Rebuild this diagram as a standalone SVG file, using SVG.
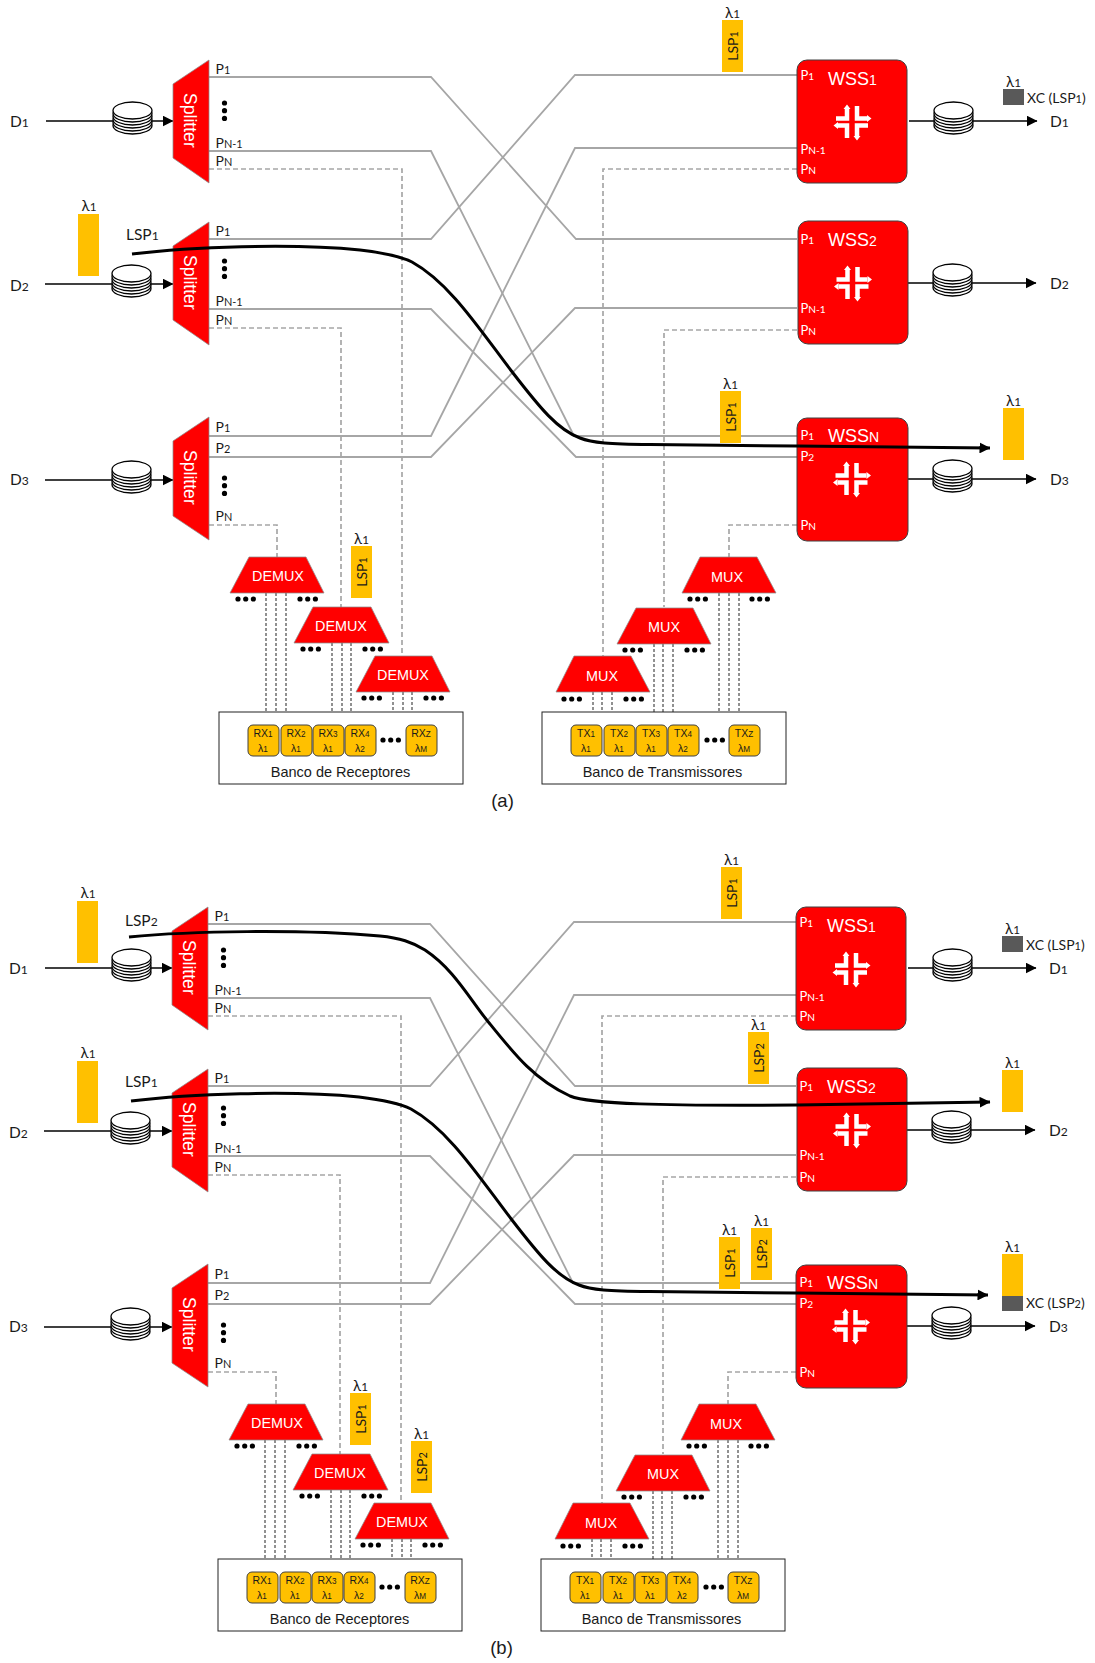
<svg xmlns="http://www.w3.org/2000/svg" xmlns:xlink="http://www.w3.org/1999/xlink" width="1095" height="1663" viewBox="0 0 1095 1663">
<style>
text{font-family:"Lato","Noto Sans",sans-serif;fill:#1a1a1a}
.a{font-family:"Liberation Sans",Arial,sans-serif}
.s{font-size:.78em}
.ln{fill:none;stroke:#a6a6a6;stroke-width:1.8}
.ds{fill:none;stroke:#a6a6a6;stroke-width:1.7;stroke-dasharray:5 3}
.tn{fill:none;stroke:#222;stroke-width:1;stroke-dasharray:3 2}
.bk{fill:none;stroke:#000;stroke-width:1.6;marker-end:url(#arr)}
.lsp{fill:none;stroke:#000;stroke-width:3;marker-end:url(#arr)}
.red{fill:#f00;stroke:#8c8c8c;stroke-width:.75}
.wss{fill:#f00;stroke:#404040;stroke-width:1}
.y{fill:#ffc000}
.g{fill:#595959}
.box{fill:#fff;stroke:#222;stroke-width:1}
.cell{fill:#ffc000;stroke:#404040;stroke-width:1}
.k{font-size:14px}
.d{font-size:15.5px}
.w{fill:#fff;font-size:13px}
.wl{fill:#fff;font-size:18px}
.sp{fill:#fff;font-size:17.6px}
.mx{fill:#fff;font-size:14.4px;text-anchor:middle}
.ce{font-size:10.5px;text-anchor:middle}
.bn{font-size:14.5px;text-anchor:middle}
.la{font-size:15px;text-anchor:middle}
.cap{font-size:18.5px;text-anchor:middle}
</style>
<defs>
<marker id="arr" markerUnits="userSpaceOnUse" markerWidth="11" markerHeight="11" refX="10.5" refY="5.5" orient="auto" viewBox="0 0 11 11"><path d="M0 0L11 5.5L0 11Z" fill="#000"/></marker>
<g id="cyl" fill="#fff" stroke="#000" stroke-width="1.3"><ellipse cx="19.5" cy="4.5" rx="19.5" ry="8.5"/><ellipse cx="19.5" cy="1.5" rx="19.5" ry="8.5"/><ellipse cx="19.5" cy="-1.5" rx="19.5" ry="8.5"/><ellipse cx="19.5" cy="-4.5" rx="19.5" ry="8.5"/><ellipse cx="19.5" cy="-7.5" rx="19.5" ry="8.5"/><ellipse cx="19.5" cy="-10.5" rx="19.5" ry="8.5"/></g>
<g id="ico"><path d="M-16-3.5H-5V-13M5-16V-3.5H15M-14 3.5H-5V16M16 3.5H5V14" fill="none" stroke="#fff" stroke-width="4.5"/><path d="M-8.5-13L-5-17.5L-1.5-13ZM15-7L19.5-3.5L15 0ZM-14 0L-18.5 3.5L-14 7ZM1.5 14L5 18.5L8.5 14Z" fill="#fff"/></g>
<g id="dh" fill="#000"><circle cx="0" cy="0" r="2.6"/><circle cx="7.7" cy="0" r="2.6"/><circle cx="15.4" cy="0" r="2.6"/></g>
<g id="dv" fill="#000"><circle cx="0" cy="0" r="2.6"/><circle cx="0" cy="7.7" r="2.6"/><circle cx="0" cy="15.4" r="2.6"/></g>
</defs>
<rect width="1095" height="1663" fill="#fff"/>

<g id="panel-a">
<g id="connectors-a">
<path class="ln" d="M209 77H431L576 239H797"/>
<path class="ln" d="M209 151H431L574 436H797"/>
<path class="ln" d="M209 239H431L575 75H797"/>
<path class="ln" d="M209 309H431L576 457H797"/>
<path class="ln" d="M209 436H431L575 148H797"/>
<path class="ln" d="M209 457H431L575 308H797"/>
<path class="ds" d="M209 169H402V656"/>
<path class="ds" d="M209 328H341V607"/>
<path class="ds" d="M209 525H277V557"/>
<path class="ds" d="M797 169H603V656"/>
<path class="ds" d="M797 330H664V607"/>
<path class="ds" d="M797 525H729V557"/>
<path class="tn" d="M266 593V712M276 593V712M286 593V712M332 643V712M342 643V712M351 643V712M393 692V712M403 692V712M412 692V712"/>
<path class="tn" d="M719 593V712M729 593V712M739 593V712M654 644V712M663 644V712M673 644V712M593 692V712M602 692V712M612 692V712"/>
<path class="bk" d="M46 121H173"/>
<path class="bk" d="M45 284H173"/>
<path class="bk" d="M45 480H173"/>
<path class="bk" d="M909 121H1037"/>
<path class="bk" d="M908 283H1036"/>
<path class="bk" d="M908 479H1036"/>
</g>
<g id="src-a">
<text class="d" x="10" y="127">D<tspan class="s">1</tspan></text><use href="#cyl" x="113" y="121"/>
<text class="d" x="10" y="291">D<tspan class="s">2</tspan></text><use href="#cyl" x="112" y="284"/>
<text class="d" x="10" y="485">D<tspan class="s">3</tspan></text><use href="#cyl" x="112" y="480"/>
</g>
<g id="splitter1-a"><path class="red" d="M173 84L209 60V183L173 158Z"/><text class="sp a" transform="translate(184 93) rotate(90)">Splitter</text>
<text class="k" x="215.5" y="73.5">P<tspan class="s">1</tspan></text><text class="k" x="215.5" y="148">P<tspan class="s">N-1</tspan></text><text class="k" x="215.5" y="166">P<tspan class="s">N</tspan></text><use href="#dv" x="224.5" y="103"/></g>
<g id="splitter2-a"><path class="red" d="M173 246L209 222V345L173 320Z"/><text class="sp a" transform="translate(184 255) rotate(90)">Splitter</text>
<text class="k" x="215.5" y="236">P<tspan class="s">1</tspan></text><text class="k" x="215.5" y="306">P<tspan class="s">N-1</tspan></text><text class="k" x="215.5" y="325">P<tspan class="s">N</tspan></text><use href="#dv" x="224.5" y="261"/></g>
<g id="splitter3-a"><path class="red" d="M173 441L209 417V540L173 516Z"/><text class="sp a" transform="translate(184 450) rotate(90)">Splitter</text>
<text class="k" x="215.5" y="432">P<tspan class="s">1</tspan></text><text class="k" x="215.5" y="453">P<tspan class="s">2</tspan></text><text class="k" x="215.5" y="521">P<tspan class="s">N</tspan></text><use href="#dv" x="224.5" y="478"/></g>
<g id="wss1-a"><rect class="wss" x="797" y="60" width="110" height="123" rx="10"/><text class="wl a" x="828" y="85">WSS<tspan class="s">1</tspan></text><use href="#ico" x="852" y="122"/>
<text class="w" x="800.5" y="80">P<tspan class="s">1</tspan></text><text class="w" x="800.5" y="154">P<tspan class="s">N-1</tspan></text><text class="w" x="800.5" y="174">P<tspan class="s">N</tspan></text></g>
<g id="wss2-a"><rect class="wss" x="798" y="221" width="110" height="123" rx="10"/><text class="wl a" x="828" y="246">WSS<tspan class="s">2</tspan></text><use href="#ico" x="852.5" y="283"/>
<text class="w" x="800.5" y="244">P<tspan class="s">1</tspan></text><text class="w" x="800.5" y="313">P<tspan class="s">N-1</tspan></text><text class="w" x="800.5" y="334.5">P<tspan class="s">N</tspan></text></g>
<g id="wssn-a"><rect class="wss" x="797" y="418" width="111" height="123" rx="10"/><text class="wl a" x="828" y="442">WSS<tspan class="s">N</tspan></text><use href="#ico" x="851.5" y="479"/>
<text class="w" x="800.5" y="440">P<tspan class="s">1</tspan></text><text class="w" x="800.5" y="461">P<tspan class="s">2</tspan></text><text class="w" x="800.5" y="529.5">P<tspan class="s">N</tspan></text></g>
<g id="dst-a">
<use href="#cyl" x="934" y="121"/><text class="d" x="1050" y="127">D<tspan class="s">1</tspan></text>
<use href="#cyl" x="933" y="283"/><text class="d" x="1050" y="289">D<tspan class="s">2</tspan></text>
<use href="#cyl" x="933" y="479"/><text class="d" x="1050" y="485">D<tspan class="s">3</tspan></text>
</g>
<g id="demux1-a"><path class="red" d="M249 557H306L324 593H230Z"/><text class="mx a" x="278" y="581">DEMUX</text><use href="#dh" x="238" y="599"/><use href="#dh" x="300" y="599"/></g>
<g id="demux2-a"><path class="red" d="M313 607H371L389 643H294Z"/><text class="mx a" x="341" y="631">DEMUX</text><use href="#dh" x="303" y="649"/><use href="#dh" x="365" y="649"/></g>
<g id="demux3-a"><path class="red" d="M375 656H432L450 692H356Z"/><text class="mx a" x="403" y="680">DEMUX</text><use href="#dh" x="364" y="698"/><use href="#dh" x="426" y="698"/></g>
<g id="mux3-a"><path class="red" d="M700 557H757L776 593H682Z"/><text class="mx a" x="727" y="582">MUX</text><use href="#dh" x="690" y="599"/><use href="#dh" x="752" y="599"/></g>
<g id="mux2-a"><path class="red" d="M636 608H693L711 644H617Z"/><text class="mx a" x="664" y="632">MUX</text><use href="#dh" x="625" y="650"/><use href="#dh" x="687" y="650"/></g>
<g id="mux1-a"><path class="red" d="M574 656H631L650 692H556Z"/><text class="mx a" x="602" y="681">MUX</text><use href="#dh" x="564" y="699"/><use href="#dh" x="626" y="699"/></g>
<g id="rxbank-a"><rect class="box" x="219" y="712" width="244" height="72"/>
<rect class="cell" x="248" y="725" width="31" height="31" rx="5"/><text class="ce a" x="263" y="737">RX<tspan class="s">1</tspan></text><text class="ce a" x="263" y="752">λ<tspan class="s">1</tspan></text>
<rect class="cell" x="281" y="725" width="31" height="31" rx="5"/><text class="ce a" x="296" y="737">RX<tspan class="s">2</tspan></text><text class="ce a" x="296" y="752">λ<tspan class="s">1</tspan></text>
<rect class="cell" x="313" y="725" width="31" height="31" rx="5"/><text class="ce a" x="328" y="737">RX<tspan class="s">3</tspan></text><text class="ce a" x="328" y="752">λ<tspan class="s">1</tspan></text>
<rect class="cell" x="345" y="725" width="31" height="31" rx="5"/><text class="ce a" x="360" y="737">RX<tspan class="s">4</tspan></text><text class="ce a" x="360" y="752">λ<tspan class="s">2</tspan></text>
<use href="#dh" x="383" y="740"/>
<rect class="cell" x="406" y="725" width="31" height="31" rx="5"/><text class="ce a" x="421" y="737">RX<tspan class="s">Z</tspan></text><text class="ce a" x="421" y="752">λ<tspan class="s">M</tspan></text>
<text class="bn a" x="340.5" y="777">Banco de Receptores</text></g>
<g id="txbank-a"><rect class="box" x="542" y="712" width="244" height="72"/>
<rect class="cell" x="571" y="725" width="31" height="31" rx="5"/><text class="ce a" x="586" y="737">TX<tspan class="s">1</tspan></text><text class="ce a" x="586" y="752">λ<tspan class="s">1</tspan></text>
<rect class="cell" x="604" y="725" width="31" height="31" rx="5"/><text class="ce a" x="619" y="737">TX<tspan class="s">2</tspan></text><text class="ce a" x="619" y="752">λ<tspan class="s">1</tspan></text>
<rect class="cell" x="636" y="725" width="31" height="31" rx="5"/><text class="ce a" x="651" y="737">TX<tspan class="s">3</tspan></text><text class="ce a" x="651" y="752">λ<tspan class="s">1</tspan></text>
<rect class="cell" x="668" y="725" width="31" height="31" rx="5"/><text class="ce a" x="683" y="737">TX<tspan class="s">4</tspan></text><text class="ce a" x="683" y="752">λ<tspan class="s">2</tspan></text>
<use href="#dh" x="707" y="740"/>
<rect class="cell" x="729" y="725" width="31" height="31" rx="5"/><text class="ce a" x="744" y="737">TX<tspan class="s">Z</tspan></text><text class="ce a" x="744" y="752">λ<tspan class="s">M</tspan></text>
<text class="bn a" x="662.5" y="777">Banco de Transmissores</text></g>
<text class="cap a" x="502.5" y="807">(a)</text>
</g>

<g id="labels-a">
<rect class="y" x="78" y="214" width="21" height="62"/><text class="la" x="89" y="211">λ<tspan class="s">1</tspan></text>
<text class="d" x="126" y="240">LSP<tspan class="s">1</tspan></text>
<rect class="y" x="722" y="20" width="21" height="52"/><text class="la" x="732.5" y="18">λ<tspan class="s">1</tspan></text><text class="k" text-anchor="middle" transform="translate(738 46) rotate(-90)">LSP<tspan class="s">1</tspan></text>
<rect class="y" x="720" y="391" width="21" height="52"/><text class="la" x="730.5" y="389">λ<tspan class="s">1</tspan></text><text class="k" text-anchor="middle" transform="translate(736 417) rotate(-90)">LSP<tspan class="s">1</tspan></text>
<rect class="y" x="351" y="546" width="21" height="52"/><text class="la" x="361.5" y="544">λ<tspan class="s">1</tspan></text><text class="k" text-anchor="middle" transform="translate(367 572) rotate(-90)">LSP<tspan class="s">1</tspan></text>
<rect class="g" x="1003" y="89" width="21" height="16"/><text class="la" x="1013.5" y="87">λ<tspan class="s">1</tspan></text><text class="k" x="1027" y="103">XC (LSP<tspan class="s">1</tspan>)</text>
<rect class="y" x="1003" y="408" width="21" height="52"/><text class="la" x="1013.5" y="406">λ<tspan class="s">1</tspan></text>
<path id="lsp1-a" class="lsp" d="M132 254C190 247 290 243 360 250C385 253 400 256 412 262C450 283 480 330 513 373C540 408 558 430 580 438C592 443 610 444 650 444.5L797 446L990 448"/>
</g>

<g id="panel-b" transform="translate(-1 847)">
<g id="connectors-b">
<path class="ln" d="M209 77H431L576 239H797"/>
<path class="ln" d="M209 151H431L574 436H797"/>
<path class="ln" d="M209 239H431L575 75H797"/>
<path class="ln" d="M209 309H431L576 457H797"/>
<path class="ln" d="M209 436H431L575 148H797"/>
<path class="ln" d="M209 457H431L575 308H797"/>
<path class="ds" d="M209 169H402V656"/>
<path class="ds" d="M209 328H341V607"/>
<path class="ds" d="M209 525H277V557"/>
<path class="ds" d="M797 169H603V656"/>
<path class="ds" d="M797 330H664V607"/>
<path class="ds" d="M797 525H729V557"/>
<path class="tn" d="M266 593V712M276 593V712M286 593V712M332 643V712M342 643V712M351 643V712M393 692V712M403 692V712M412 692V712"/>
<path class="tn" d="M719 593V712M729 593V712M739 593V712M654 644V712M663 644V712M673 644V712M593 692V712M602 692V712M612 692V712"/>
<path class="bk" d="M46 121H173"/>
<path class="bk" d="M45 284H173"/>
<path class="bk" d="M45 480H173"/>
<path class="bk" d="M909 121H1037"/>
<path class="bk" d="M908 283H1036"/>
<path class="bk" d="M908 479H1036"/>
</g>
<g id="src-b">
<text class="d" x="10" y="127">D<tspan class="s">1</tspan></text><use href="#cyl" x="113" y="121"/>
<text class="d" x="10" y="291">D<tspan class="s">2</tspan></text><use href="#cyl" x="112" y="284"/>
<text class="d" x="10" y="485">D<tspan class="s">3</tspan></text><use href="#cyl" x="112" y="480"/>
</g>
<g id="splitter1-b"><path class="red" d="M173 84L209 60V183L173 158Z"/><text class="sp a" transform="translate(184 93) rotate(90)">Splitter</text>
<text class="k" x="215.5" y="73.5">P<tspan class="s">1</tspan></text><text class="k" x="215.5" y="148">P<tspan class="s">N-1</tspan></text><text class="k" x="215.5" y="166">P<tspan class="s">N</tspan></text><use href="#dv" x="224.5" y="103"/></g>
<g id="splitter2-b"><path class="red" d="M173 246L209 222V345L173 320Z"/><text class="sp a" transform="translate(184 255) rotate(90)">Splitter</text>
<text class="k" x="215.5" y="236">P<tspan class="s">1</tspan></text><text class="k" x="215.5" y="306">P<tspan class="s">N-1</tspan></text><text class="k" x="215.5" y="325">P<tspan class="s">N</tspan></text><use href="#dv" x="224.5" y="261"/></g>
<g id="splitter3-b"><path class="red" d="M173 441L209 417V540L173 516Z"/><text class="sp a" transform="translate(184 450) rotate(90)">Splitter</text>
<text class="k" x="215.5" y="432">P<tspan class="s">1</tspan></text><text class="k" x="215.5" y="453">P<tspan class="s">2</tspan></text><text class="k" x="215.5" y="521">P<tspan class="s">N</tspan></text><use href="#dv" x="224.5" y="478"/></g>
<g id="wss1-b"><rect class="wss" x="797" y="60" width="110" height="123" rx="10"/><text class="wl a" x="828" y="85">WSS<tspan class="s">1</tspan></text><use href="#ico" x="852" y="122"/>
<text class="w" x="800.5" y="80">P<tspan class="s">1</tspan></text><text class="w" x="800.5" y="154">P<tspan class="s">N-1</tspan></text><text class="w" x="800.5" y="174">P<tspan class="s">N</tspan></text></g>
<g id="wss2-b"><rect class="wss" x="798" y="221" width="110" height="123" rx="10"/><text class="wl a" x="828" y="246">WSS<tspan class="s">2</tspan></text><use href="#ico" x="852.5" y="283"/>
<text class="w" x="800.5" y="244">P<tspan class="s">1</tspan></text><text class="w" x="800.5" y="313">P<tspan class="s">N-1</tspan></text><text class="w" x="800.5" y="334.5">P<tspan class="s">N</tspan></text></g>
<g id="wssn-b"><rect class="wss" x="797" y="418" width="111" height="123" rx="10"/><text class="wl a" x="828" y="442">WSS<tspan class="s">N</tspan></text><use href="#ico" x="851.5" y="479"/>
<text class="w" x="800.5" y="440">P<tspan class="s">1</tspan></text><text class="w" x="800.5" y="461">P<tspan class="s">2</tspan></text><text class="w" x="800.5" y="529.5">P<tspan class="s">N</tspan></text></g>
<g id="dst-b">
<use href="#cyl" x="934" y="121"/><text class="d" x="1050" y="127">D<tspan class="s">1</tspan></text>
<use href="#cyl" x="933" y="283"/><text class="d" x="1050" y="289">D<tspan class="s">2</tspan></text>
<use href="#cyl" x="933" y="479"/><text class="d" x="1050" y="485">D<tspan class="s">3</tspan></text>
</g>
<g id="demux1-b"><path class="red" d="M249 557H306L324 593H230Z"/><text class="mx a" x="278" y="581">DEMUX</text><use href="#dh" x="238" y="599"/><use href="#dh" x="300" y="599"/></g>
<g id="demux2-b"><path class="red" d="M313 607H371L389 643H294Z"/><text class="mx a" x="341" y="631">DEMUX</text><use href="#dh" x="303" y="649"/><use href="#dh" x="365" y="649"/></g>
<g id="demux3-b"><path class="red" d="M375 656H432L450 692H356Z"/><text class="mx a" x="403" y="680">DEMUX</text><use href="#dh" x="364" y="698"/><use href="#dh" x="426" y="698"/></g>
<g id="mux3-b"><path class="red" d="M700 557H757L776 593H682Z"/><text class="mx a" x="727" y="582">MUX</text><use href="#dh" x="690" y="599"/><use href="#dh" x="752" y="599"/></g>
<g id="mux2-b"><path class="red" d="M636 608H693L711 644H617Z"/><text class="mx a" x="664" y="632">MUX</text><use href="#dh" x="625" y="650"/><use href="#dh" x="687" y="650"/></g>
<g id="mux1-b"><path class="red" d="M574 656H631L650 692H556Z"/><text class="mx a" x="602" y="681">MUX</text><use href="#dh" x="564" y="699"/><use href="#dh" x="626" y="699"/></g>
<g id="rxbank-b"><rect class="box" x="219" y="712" width="244" height="72"/>
<rect class="cell" x="248" y="725" width="31" height="31" rx="5"/><text class="ce a" x="263" y="737">RX<tspan class="s">1</tspan></text><text class="ce a" x="263" y="752">λ<tspan class="s">1</tspan></text>
<rect class="cell" x="281" y="725" width="31" height="31" rx="5"/><text class="ce a" x="296" y="737">RX<tspan class="s">2</tspan></text><text class="ce a" x="296" y="752">λ<tspan class="s">1</tspan></text>
<rect class="cell" x="313" y="725" width="31" height="31" rx="5"/><text class="ce a" x="328" y="737">RX<tspan class="s">3</tspan></text><text class="ce a" x="328" y="752">λ<tspan class="s">1</tspan></text>
<rect class="cell" x="345" y="725" width="31" height="31" rx="5"/><text class="ce a" x="360" y="737">RX<tspan class="s">4</tspan></text><text class="ce a" x="360" y="752">λ<tspan class="s">2</tspan></text>
<use href="#dh" x="383" y="740"/>
<rect class="cell" x="406" y="725" width="31" height="31" rx="5"/><text class="ce a" x="421" y="737">RX<tspan class="s">Z</tspan></text><text class="ce a" x="421" y="752">λ<tspan class="s">M</tspan></text>
<text class="bn a" x="340.5" y="777">Banco de Receptores</text></g>
<g id="txbank-b"><rect class="box" x="542" y="712" width="244" height="72"/>
<rect class="cell" x="571" y="725" width="31" height="31" rx="5"/><text class="ce a" x="586" y="737">TX<tspan class="s">1</tspan></text><text class="ce a" x="586" y="752">λ<tspan class="s">1</tspan></text>
<rect class="cell" x="604" y="725" width="31" height="31" rx="5"/><text class="ce a" x="619" y="737">TX<tspan class="s">2</tspan></text><text class="ce a" x="619" y="752">λ<tspan class="s">1</tspan></text>
<rect class="cell" x="636" y="725" width="31" height="31" rx="5"/><text class="ce a" x="651" y="737">TX<tspan class="s">3</tspan></text><text class="ce a" x="651" y="752">λ<tspan class="s">1</tspan></text>
<rect class="cell" x="668" y="725" width="31" height="31" rx="5"/><text class="ce a" x="683" y="737">TX<tspan class="s">4</tspan></text><text class="ce a" x="683" y="752">λ<tspan class="s">2</tspan></text>
<use href="#dh" x="707" y="740"/>
<rect class="cell" x="729" y="725" width="31" height="31" rx="5"/><text class="ce a" x="744" y="737">TX<tspan class="s">Z</tspan></text><text class="ce a" x="744" y="752">λ<tspan class="s">M</tspan></text>
<text class="bn a" x="662.5" y="777">Banco de Transmissores</text></g>
<text class="cap a" x="502.5" y="807">(b)</text>
</g>

<g id="labels-b">
<rect class="y" x="77" y="901" width="21" height="62"/><text class="la" x="88" y="898">λ<tspan class="s">1</tspan></text>
<rect class="y" x="77" y="1061" width="21" height="62"/><text class="la" x="88" y="1058">λ<tspan class="s">1</tspan></text>
<text class="d" x="125" y="926">LSP<tspan class="s">2</tspan></text>
<text class="d" x="125" y="1087">LSP<tspan class="s">1</tspan></text>
<rect class="y" x="721" y="867" width="21" height="52"/><text class="la" x="731.5" y="865">λ<tspan class="s">1</tspan></text><text class="k" text-anchor="middle" transform="translate(737 893) rotate(-90)">LSP<tspan class="s">1</tspan></text>
<rect class="y" x="748" y="1032" width="21" height="52"/><text class="la" x="758.5" y="1030">λ<tspan class="s">1</tspan></text><text class="k" text-anchor="middle" transform="translate(764 1058) rotate(-90)">LSP<tspan class="s">2</tspan></text>
<rect class="y" x="719" y="1237" width="21" height="52"/><text class="la" x="729.5" y="1235">λ<tspan class="s">1</tspan></text><text class="k" text-anchor="middle" transform="translate(735 1263) rotate(-90)">LSP<tspan class="s">1</tspan></text>
<rect class="y" x="751" y="1228" width="21" height="52"/><text class="la" x="761.5" y="1226">λ<tspan class="s">1</tspan></text><text class="k" text-anchor="middle" transform="translate(767 1254) rotate(-90)">LSP<tspan class="s">2</tspan></text>
<rect class="y" x="350" y="1393" width="21" height="52"/><text class="la" x="360.5" y="1391">λ<tspan class="s">1</tspan></text><text class="k" text-anchor="middle" transform="translate(366 1419) rotate(-90)">LSP<tspan class="s">1</tspan></text>
<rect class="y" x="411" y="1441" width="21" height="52"/><text class="la" x="421.5" y="1439">λ<tspan class="s">1</tspan></text><text class="k" text-anchor="middle" transform="translate(427 1467) rotate(-90)">LSP<tspan class="s">2</tspan></text>
<rect class="g" x="1002" y="936" width="21" height="16"/><text class="la" x="1012.5" y="934">λ<tspan class="s">1</tspan></text><text class="k" x="1026" y="950">XC (LSP<tspan class="s">1</tspan>)</text>
<rect class="y" x="1002" y="1070" width="21" height="42"/><text class="la" x="1012.5" y="1068">λ<tspan class="s">1</tspan></text>
<rect class="y" x="1002" y="1254" width="21" height="42"/><rect class="g" x="1002" y="1296" width="21" height="15"/><text class="la" x="1012.5" y="1252">λ<tspan class="s">1</tspan></text><text class="k" x="1026" y="1308">XC (LSP<tspan class="s">2</tspan>)</text>
<path id="lsp2-b" class="lsp" d="M129 937C190 931 300 929 380 936C400 938 412 942 425 950C455 970 470 1000 490 1024C515 1055 535 1080 570 1096C590 1104 660 1106 797 1105L990 1102"/>
<path id="lsp1-b" class="lsp" d="M131 1101C189 1094 289 1090 359 1097C384 1100 399 1103 411 1109C449 1130 479 1177 512 1220C539 1255 557 1277 579 1285C591 1290 609 1291 649 1291.5L796 1293L988 1295"/>
</g>
</svg>
